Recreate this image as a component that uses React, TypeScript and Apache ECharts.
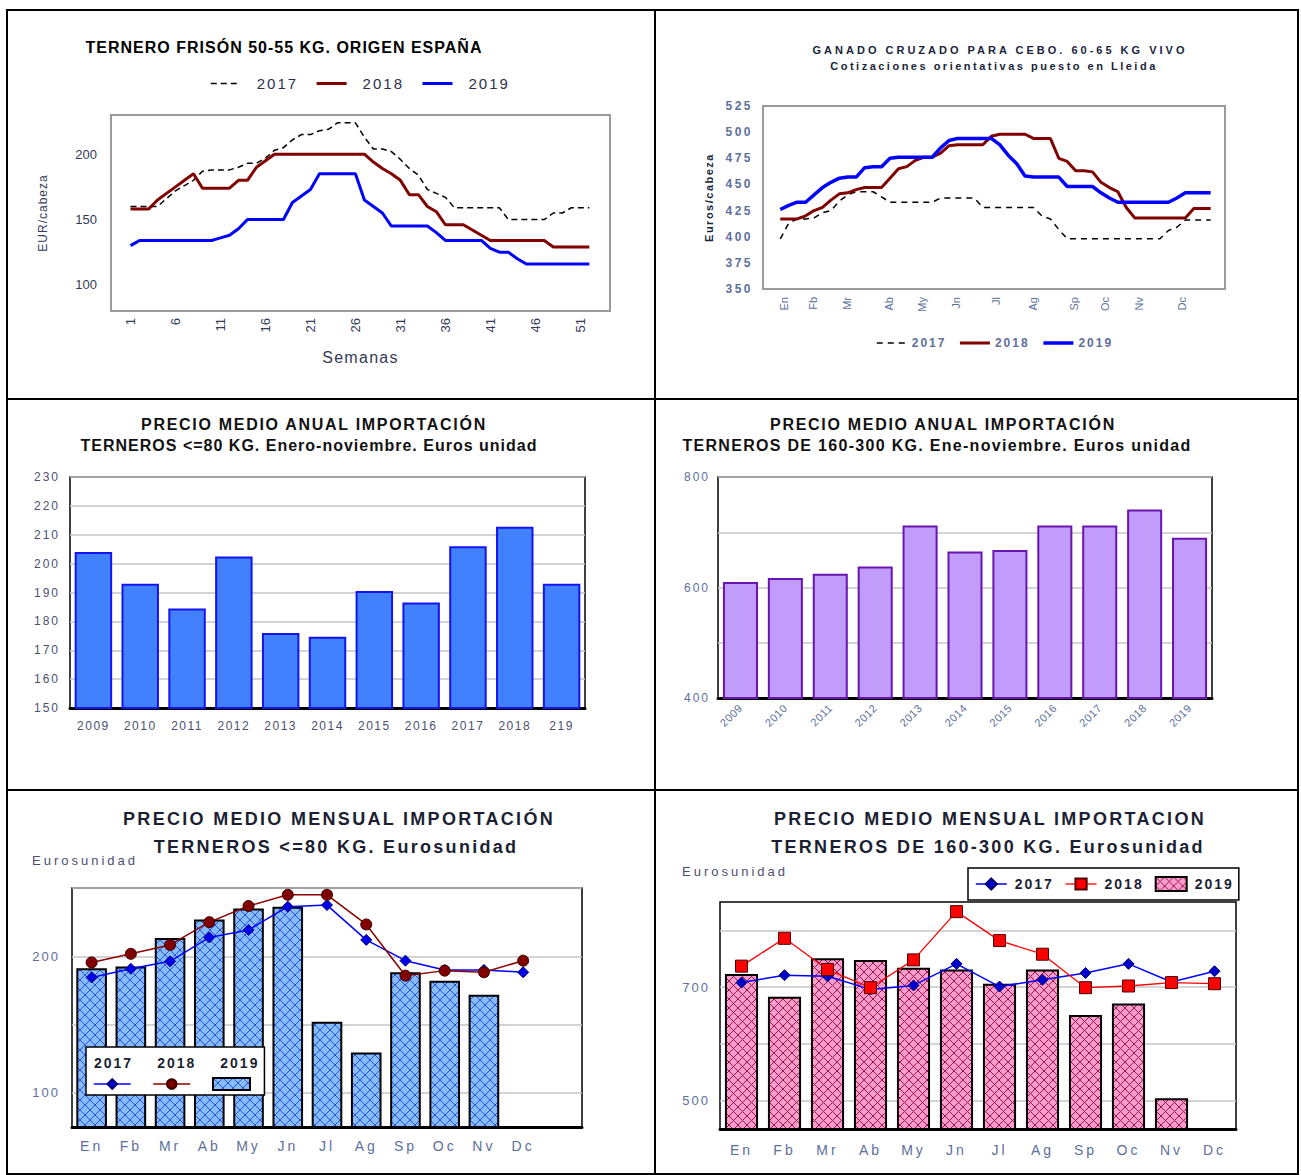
import React, { useEffect, useRef } from 'react';
import * as echarts from 'echarts';

// ---------------- DATA ----------------
// Panel 1: Ternero frisón 50-55 kg, weekly (EUR/cabeza)
const frisonWeeks = Array.from({ length: 52 }, (_, i) => i + 1);
const frisonWeekTicks = [1, 6, 11, 16, 21, 26, 31, 36, 41, 46, 51];
const frisonYTicks = [100, 150, 200];
const frison2017 = [160, 160, 160, 160, 166, 172, 176, 180, 187, 188, 188, 188, 190, 193, 193, 197, 203, 205, 211, 215, 215, 218, 219, 224, 224, 224, 213, 204, 204, 202, 196, 189, 184, 173, 170, 167, 159, 159, 159, 159, 159, 159, 150, 150, 150, 150, 150, 155, 155, 159, 159, 159];
const frison2018 = [158, 158, 158, 165, 170, 175, 180, 185, 174, 174, 174, 174, 180, 180, 190, 195, 200, 200, 200, 200, 200, 200, 200, 200, 200, 200, 200, 194, 189, 185, 180, 169, 169, 160, 156, 146, 146, 146, 142, 138, 134, 134, 134, 134, 134, 134, 134, 129, 129, 129, 129, 129];
const frison2019 = [130, 134, 134, 134, 134, 134, 134, 134, 134, 134, 136, 138, 143, 150, 150, 150, 150, 150, 163, 168, 173, 185, 185, 185, 185, 185, 165, 160, 155, 145, 145, 145, 145, 145, 140, 134, 134, 134, 134, 134, 128, 125, 125, 120, 116, 116, 116, 116, 116, 116, 116, 116];

// Panel 2: Ganado cruzado para cebo 60-65 kg vivo, weekly (Euros/cabeza)
const cruzadoWeeks = Array.from({ length: 52 }, (_, i) => i + 1);
const monthLabels = ['En', 'Fb', 'Mr', 'Ab', 'My', 'Jn', 'Jl', 'Ag', 'Sp', 'Oc', 'Nv', 'Dc'];
const cruzadoMonthPos = [1.4, 4.9, 8.9, 13.9, 17.8, 21.8, 26.6, 31.0, 35.8, 39.5, 43.5, 48.6];
const cruzado2017 = [398, 413, 417, 417, 418, 423, 425, 434, 440, 443, 443, 443, 438, 433, 433, 433, 433, 433, 433, 437, 437, 437, 437, 437, 428, 428, 428, 428, 428, 428, 428, 420, 417, 407, 398, 398, 398, 398, 398, 398, 398, 398, 398, 398, 398, 398, 406, 409, 416, 416, 416, 416];
const cruzado2018 = [417, 417, 417, 420, 425, 428, 435, 441, 442, 445, 447, 447, 447, 456, 465, 467, 473, 476, 476, 480, 487, 488, 488, 488, 488, 496, 498, 498, 498, 498, 494, 494, 494, 475, 472, 463, 463, 462, 452, 447, 443, 428, 418, 418, 418, 418, 418, 418, 418, 427, 427, 427];
const cruzado2019 = [426, 430, 433, 433, 440, 447, 452, 456, 457, 457, 466, 467, 467, 475, 476, 476, 476, 476, 476, 485, 492, 494, 494, 494, 494, 494, 488, 478, 470, 458, 457, 457, 457, 457, 448, 448, 448, 448, 442, 437, 433, 433, 433, 433, 433, 433, 433, 437, 442, 442, 442, 442];

// Panel 3: annual import price, terneros <=80 kg
const annual80Years = ['2009', '2010', '2011', '2012', '2013', '2014', '2015', '2016', '2017', '2018', '219'];
const annual80Values = [204, 193, 184.5, 202.5, 176, 174.7, 190.5, 186.5, 206, 212.8, 193];

// Panel 4: annual import price, terneros 160-300 kg
const annual160Years = ['2009', '2010', '2011', '2012', '2013', '2014', '2015', '2016', '2017', '2018', '2019'];
const annual160Values = [610, 617, 625, 638, 712, 665, 668, 712, 712, 741, 690];
const annual160Labels = [400, 600, 800];

// Panel 5: monthly import price, terneros <=80 kg
const monthly80_2019 = [191.3, 192.5, 213.3, 227, 235, 236.3, 152, 129.5, 188.3, 182, 171.8, null];
const monthly80_2017 = [184.5, 190.8, 196.3, 213.8, 219.3, 236.3, 237.5, 212, 196.8, 190, 190, 188.3];
const monthly80_2018 = [195.5, 201.8, 208.3, 225, 236.8, 245, 245, 223.3, 185.8, 189.5, 188.3, 196.8];
const monthly80Labels = [100, 200];

// Panel 6: monthly import price, terneros 160-300 kg
const monthly160_2019 = [723, 683, 751, 748, 734, 731, 706, 731, 651, 671, 504, null];
const monthly160_2017 = [708, 721, 719, 696, 703, 741, 701, 713, 725, 741, 709, 728];
const monthly160_2018 = [737, 786, 731, 699, 748, 833, 782, 758, 699, 702, 708, 706];
const monthly160Labels = [500, 700];

// ---------------- STYLE HELPERS ----------------
const FAM = "'Liberation Sans', Arial, Helvetica, sans-serif";
const fam = (t: number) => (t ? `lsp${t}z, ${FAM}` : FAM); // t = letter spacing in tenths of px
const SPACINGS = [5, 10, 13, 15, 17, 20, 23, 25, 30];
const css = SPACINGS.map(
  (t) => `#chartwrap text[style*="lsp${t}z"], #chartwrap text[font-family*="lsp${t}z"] { letter-spacing: ${t / 10}px; }`
).join('\n');

const nm = (n: string) => n.split('@')[0];
const pairs = (xs: number[], ys: (number | null)[]) => xs.map((x, i) => [x, ys[i]]);

const T = (
  text: string, x: number, y: number, size: number, sp: number,
  color = '#111', weight = 'bold', align = 'center'
) => ({
  text, left: x, top: y, padding: 0, textAlign: align, textVerticalAlign: 'middle',
  textStyle: { fontSize: size, fontWeight: weight, fontFamily: fam(sp), color },
});

function makeHatch(bg: string, fg: string, size: number, lw: number) {
  const c = document.createElement('canvas');
  c.width = size;
  c.height = size;
  const ctx = c.getContext('2d')!;
  ctx.fillStyle = bg;
  ctx.fillRect(0, 0, size, size);
  ctx.strokeStyle = fg;
  ctx.lineWidth = lw;
  ctx.beginPath();
  ctx.moveTo(0, 0); ctx.lineTo(size, size);
  ctx.moveTo(size, 0); ctx.lineTo(0, size);
  ctx.stroke();
  return c;
}

const TICK = '#333a55';
const TICK2 = '#5d6f9c';
const TICK3 = '#4a5070';

function buildOption() {
  const hatchBlue = { image: makeHatch('#86bcff', '#2a55d8', 10, 1), repeat: 'repeat' };
  const hatchPink = { image: makeHatch('#ff9cce', '#9a1848', 9, 1), repeat: 'repeat' };

  const weekLine = (name: string, xi: number, xs: number[], ys: number[], color: string, width: number, dash?: number[]) => ({
    name, type: 'line', xAxisIndex: xi, yAxisIndex: xi, data: pairs(xs, ys),
    symbol: 'none', showSymbol: false,
    lineStyle: { color, width, type: dash ? dash : 'solid' }, itemStyle: { color },
  });

  return {
    animation: false,
    backgroundColor: '#fff',
    textStyle: { fontFamily: FAM },
    title: [
      T('TERNERO FRISÓN 50-55 KG. ORIGEN ESPAÑA', 284, 47, 16, 10, '#000'),
      T('GANADO CRUZADO PARA CEBO. 60-65 KG VIVO', 1000, 50, 11, 30, '#1a1f3a'),
      T('Cotizaciones orientativas puesto en Lleida', 994, 66, 11, 25, '#1a1f3a'),
      T('PRECIO MEDIO ANUAL IMPORTACIÓN', 314, 424, 16, 17),
      T('TERNEROS <=80 KG. Enero-noviembre. Euros unidad', 309, 445, 16, 10),
      T('PRECIO MEDIO ANUAL IMPORTACIÓN', 943, 424, 16, 17),
      T('TERNEROS DE 160-300 KG. Ene-noviembre. Euros unidad', 937, 445, 16, 13),
      T('PRECIO MEDIO MENSUAL IMPORTACIÓN', 339, 819, 18, 23, '#1c1f33'),
      T('TERNEROS <=80 KG. Eurosunidad', 336, 847, 18, 23, '#1c1f33'),
      T('Eurosunidad', 32, 860, 13, 30, TICK3, 'normal', 'left'),
      T('PRECIO MEDIO MENSUAL IMPORTACION', 990, 819, 18, 23, '#1c1f33'),
      T('TERNEROS DE 160-300 KG. Eurosunidad', 988, 847, 18, 23, '#1c1f33'),
      T('Eurosunidad', 682, 871, 13, 30, TICK3, 'normal', 'left'),
    ],
    legend: [
      {
        data: ['2017@p1', '2018@p1', '2019@p1'], left: 210, top: 76, padding: 0,
        itemWidth: 30, itemHeight: 14, itemGap: 25, formatter: nm, selectedMode: false,
        itemStyle: { opacity: 0 }, lineStyle: { width: 'inherit' },
        textStyle: { fontSize: 15, fontFamily: fam(20), color: '#2a3050', padding: [0, 0, 0, 11] },
      },
      {
        data: ['2017@p2', '2018@p2', '2019@p2'], left: 876, top: 337, padding: 0,
        itemWidth: 30, itemHeight: 12, itemGap: 20, formatter: nm, selectedMode: false,
        itemStyle: { opacity: 0 }, lineStyle: { width: 'inherit' },
        textStyle: { fontSize: 12, fontWeight: 'bold', fontFamily: fam(20), color: TICK2 },
      },
      {
        data: ['2017@p5', '2018@p5', '2019@p5'], left: 86, top: 1047, padding: [8, 13, 25, 3],
        icon: 'none', itemWidth: 0, itemHeight: 16, itemGap: 27, formatter: nm, selectedMode: false,
        backgroundColor: '#fff', borderColor: '#000', borderWidth: 1.5,
        textStyle: { fontSize: 14, fontWeight: 'bold', fontFamily: fam(20), color: '#1c1f33' },
      },
      {
        data: [{ name: '2017@p5' }, { name: '2018@p5' }, { name: '2019@p5', icon: 'rect' }],
        left: 93, top: 1077, padding: 0,
        itemWidth: 37, itemHeight: 12, itemGap: 21, formatter: () => '', selectedMode: false,
        lineStyle: { width: 'inherit' },
      },
      {
        data: [{ name: '2017@p6' }, { name: '2018@p6' }, { name: '2019@p6', icon: 'rect' }],
        left: 968, top: 868, padding: [8, 13, 8, 7],
        itemWidth: 31, itemHeight: 14, itemGap: 19, formatter: nm, selectedMode: false,
        backgroundColor: '#fff', borderColor: '#000', borderWidth: 1.5,
        lineStyle: { width: 'inherit' },
        textStyle: { fontSize: 14, fontWeight: 'bold', fontFamily: fam(20), color: '#1c1f33', padding: [0, 0, 0, 3] },
      },
    ],
    grid: [
      { left: 111, top: 115, width: 499, height: 196, show: true, borderColor: '#9a9a9a', borderWidth: 2 },
      { left: 763, top: 106, width: 462, height: 183, show: true, borderColor: '#9a9a9a', borderWidth: 2 },
      { left: 70, top: 477, width: 515, height: 231, show: true, borderColor: '#000', borderWidth: 1.5 },
      { left: 718, top: 477, width: 494, height: 221, show: true, borderColor: '#000', borderWidth: 1.5 },
      { left: 72, top: 888, width: 510, height: 239, show: true, borderColor: '#000', borderWidth: 1.5 },
      { left: 720, top: 902, width: 516, height: 227, show: true, borderColor: '#000', borderWidth: 1.5 },
    ],
    xAxis: [
      {
        gridIndex: 0, type: 'value', min: -1.17, max: 54.3,
        axisLine: { show: false }, axisTick: { show: false }, splitLine: { show: false },
        axisLabel: { customValues: frisonWeekTicks, rotate: 90, margin: 7, fontSize: 13, color: TICK },
        name: 'Semanas', nameLocation: 'middle', nameGap: 38,
        nameTextStyle: { fontSize: 16, fontFamily: fam(13), color: TICK },
      },
      {
        gridIndex: 1, type: 'value', min: -1.05, max: 53.7,
        axisLine: { show: false }, axisTick: { show: false }, splitLine: { show: false },
        axisLabel: {
          customValues: cruzadoMonthPos, rotate: 90, margin: 8, fontSize: 11, color: TICK2,
          formatter: (v: number) => {
            const i = cruzadoMonthPos.findIndex((p) => Math.abs(p - v) < 1e-6);
            return i >= 0 ? monthLabels[i] : '';
          },
        },
      },
      {
        gridIndex: 2, type: 'category', data: annual80Years,
        axisLine: { lineStyle: { color: '#000', width: 3 } }, axisTick: { show: false },
        axisLabel: { fontSize: 12, fontFamily: fam(15), color: TICK3, margin: 12 },
      },
      {
        gridIndex: 3, type: 'category', data: annual160Years,
        axisLine: { lineStyle: { color: '#000', width: 3 } }, axisTick: { show: false },
        axisLabel: { fontSize: 11, fontFamily: fam(5), color: TICK2, margin: 8, rotate: 45 },
      },
      {
        // the plot frame extends one empty month slot beyond December
        gridIndex: 4, type: 'category', data: monthLabels, max: 12,
        axisLine: { lineStyle: { color: '#000', width: 3 } }, axisTick: { show: false },
        axisLabel: { fontSize: 14, fontFamily: fam(30), color: TICK2, margin: 12 },
      },
      {
        gridIndex: 5, type: 'category', data: monthLabels,
        axisLine: { lineStyle: { color: '#000', width: 3 } }, axisTick: { show: false },
        axisLabel: { fontSize: 14, fontFamily: fam(30), color: TICK2, margin: 14 },
      },
    ],
    yAxis: [
      {
        gridIndex: 0, type: 'value', min: 80, max: 230,
        axisLine: { show: false }, axisTick: { show: false }, splitLine: { show: false },
        axisLabel: { customValues: frisonYTicks, margin: 14, fontSize: 13, color: TICK },
        name: 'EUR/cabeza', nameLocation: 'middle', nameGap: 62, nameRotate: 90,
        nameTextStyle: { fontSize: 12, fontFamily: fam(10), color: TICK },
      },
      {
        gridIndex: 1, type: 'value', min: 350, max: 525, interval: 25,
        axisLine: { show: false }, axisTick: { show: false }, splitLine: { show: false },
        axisLabel: { margin: 10, fontSize: 12, fontWeight: 'bold', fontFamily: fam(25), color: TICK2 },
        name: 'Euros/cabeza', nameLocation: 'middle', nameGap: 49, nameRotate: 90,
        nameTextStyle: { fontSize: 11, fontWeight: 'bold', fontFamily: fam(15), color: '#1a1f3a' },
      },
      {
        gridIndex: 2, type: 'value', min: 150, max: 230, interval: 10,
        axisLine: { show: false }, axisTick: { show: false },
        splitLine: { lineStyle: { color: '#c6c6c6', width: 1.5 } },
        axisLabel: { margin: 10, fontSize: 12, fontFamily: fam(20), color: TICK3 },
      },
      {
        gridIndex: 3, type: 'value', min: 400, max: 800, interval: 100,
        axisLine: { show: false }, axisTick: { show: false },
        splitLine: { lineStyle: { color: '#c6c6c6', width: 1.5 } },
        axisLabel: {
          margin: 8, fontSize: 12, fontFamily: fam(20), color: TICK2,
          formatter: (v: number) => (annual160Labels.includes(v) ? String(v) : ''),
        },
      },
      {
        gridIndex: 4, type: 'value', min: 75, max: 250, interval: 25,
        axisLine: { show: false }, axisTick: { show: false },
        splitLine: { lineStyle: { color: ['transparent', '#c6c6c6'], width: 1.5 } },
        axisLabel: {
          margin: 12, fontSize: 13, fontFamily: fam(20), color: TICK2,
          formatter: (v: number) => (monthly80Labels.includes(v) ? String(v) : ''),
        },
      },
      {
        gridIndex: 5, type: 'value', min: 450, max: 850, interval: 50,
        axisLine: { show: false }, axisTick: { show: false },
        splitLine: { lineStyle: { color: ['transparent', '#c6c6c6'], width: 1.5 } },
        axisLabel: {
          margin: 10, fontSize: 13, fontFamily: fam(20), color: TICK2,
          formatter: (v: number) => (monthly160Labels.includes(v) ? String(v) : ''),
        },
      },
    ],
    series: [
      weekLine('2017@p1', 0, frisonWeeks, frison2017, '#000000', 1.5, [6, 4]),
      weekLine('2018@p1', 0, frisonWeeks, frison2018, '#800000', 3),
      weekLine('2019@p1', 0, frisonWeeks, frison2019, '#0000ff', 3),
      weekLine('2017@p2', 1, cruzadoWeeks, cruzado2017, '#000000', 1.5, [6, 5]),
      weekLine('2018@p2', 1, cruzadoWeeks, cruzado2018, '#800000', 3),
      weekLine('2019@p2', 1, cruzadoWeeks, cruzado2019, '#0000ff', 3.5),
      {
        name: 'Terneros <=80 kg@p3', type: 'bar', xAxisIndex: 2, yAxisIndex: 2, data: annual80Values,
        barCategoryGap: '20%', itemStyle: { color: '#4181fd', borderColor: '#1414f0', borderWidth: 2 },
      },
      {
        name: 'Terneros 160-300 kg@p4', type: 'bar', xAxisIndex: 3, yAxisIndex: 3, data: annual160Values,
        barCategoryGap: '22%', itemStyle: { color: '#c29cfb', borderColor: '#6a14b0', borderWidth: 2 },
      },
      {
        name: '2019@p5', type: 'bar', xAxisIndex: 4, yAxisIndex: 4, data: monthly80_2019,
        barCategoryGap: '22%', itemStyle: { color: hatchBlue, borderColor: '#000', borderWidth: 2 },
      },
      {
        name: '2017@p5', type: 'line', xAxisIndex: 4, yAxisIndex: 4, data: monthly80_2017,
        symbol: 'diamond', symbolSize: 11,
        lineStyle: { color: '#0000ff', width: 1.5 },
        itemStyle: { color: '#0000ee', borderColor: '#00006a', borderWidth: 1 },
      },
      {
        name: '2018@p5', type: 'line', xAxisIndex: 4, yAxisIndex: 4, data: monthly80_2018,
        symbol: 'circle', symbolSize: 11,
        lineStyle: { color: '#8b0000', width: 1.5 },
        itemStyle: { color: '#800000', borderColor: '#3a0000', borderWidth: 1 },
      },
      {
        name: '2019@p6', type: 'bar', xAxisIndex: 5, yAxisIndex: 5, data: monthly160_2019,
        barCategoryGap: '23%', itemStyle: { color: hatchPink, borderColor: '#000', borderWidth: 2 },
      },
      {
        name: '2017@p6', type: 'line', xAxisIndex: 5, yAxisIndex: 5, data: monthly160_2017,
        symbol: 'diamond', symbolSize: 11,
        lineStyle: { color: '#0000ff', width: 1.5 },
        itemStyle: { color: '#0000cc', borderColor: '#00006a', borderWidth: 1 },
      },
      {
        name: '2018@p6', type: 'line', xAxisIndex: 5, yAxisIndex: 5, data: monthly160_2018,
        symbol: 'rect', symbolSize: 12,
        lineStyle: { color: '#ff0000', width: 1.3 },
        itemStyle: { color: '#ff0000', borderColor: '#500000', borderWidth: 1 },
      },
    ],
    graphic: [
      { type: 'rect', silent: true, z: 100, shape: { x: 7, y: 10, width: 1291, height: 1164 }, style: { fill: 'none', stroke: '#000', lineWidth: 2 } },
      { type: 'line', silent: true, z: 100, shape: { x1: 655, y1: 10, x2: 655, y2: 1174 }, style: { stroke: '#000', lineWidth: 2 } },
      { type: 'line', silent: true, z: 100, shape: { x1: 7, y1: 399, x2: 1298, y2: 399 }, style: { stroke: '#000', lineWidth: 2 } },
      { type: 'line', silent: true, z: 100, shape: { x1: 7, y1: 790, x2: 1298, y2: 790 }, style: { stroke: '#000', lineWidth: 2 } },
    ],
  };
}

export default function App() {
  const ref = useRef<HTMLDivElement>(null);
  useEffect(() => {
    if (!ref.current) return;
    const chart = echarts.init(ref.current, null, { renderer: 'svg' });
    chart.setOption(buildOption() as any);
    return () => chart.dispose();
  }, []);
  return (
    <>
      <style>{css}</style>
      <div
        id="chartwrap"
        ref={ref}
        style={{ position: 'absolute', left: 0, top: 0, width: 1301, height: 1175, background: '#fff' }}
      />
    </>
  );
}
